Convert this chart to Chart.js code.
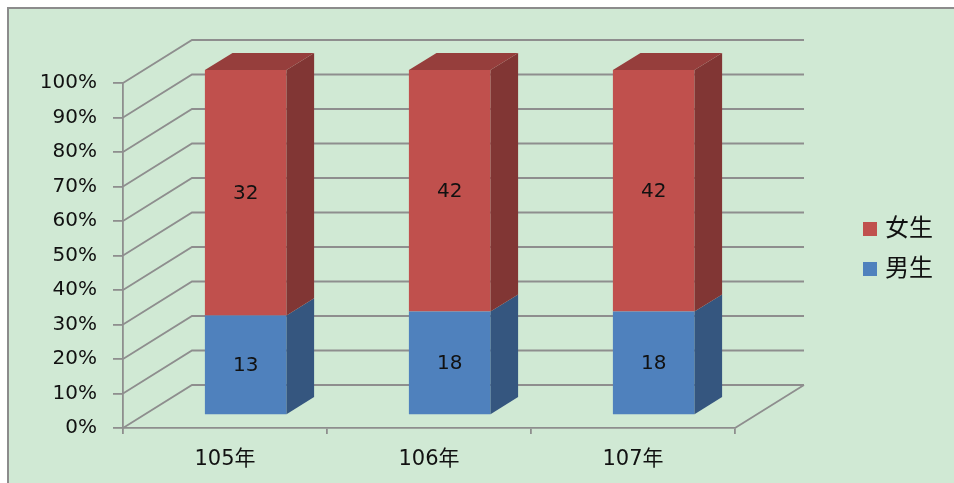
<!DOCTYPE html>
<html>
<head>
<meta charset="utf-8">
<script src="https://cdn.jsdelivr.net/npm/chart.js@4/dist/chart.umd.min.js"></script>
<style>
    body { margin: 0; background: #fff; }
    #wrap { position: relative; width: 954px; height: 483px; }
</style>
</head>
<body>
<div id="wrap"><canvas id="genderChart" width="954" height="483"></canvas></div>
<script>
// 資料
const years = ["105年", "106年", "107年"];
const boys = [13, 18, 18];
const girls = [32, 42, 42];
const yTicks = [0, 10, 20, 30, 40, 50, 60, 70, 80, 90, 100];

const totals = years.map((y, i) => boys[i] + girls[i]);
const boysPct = boys.map((v, i) => (v / totals[i]) * 100);
const girlsPct = girls.map((v, i) => (v / totals[i]) * 100);

const BG = "#d0e9d4";
const LINE = "#8e8e8e";
const FONT = "'DejaVu Sans', 'Noto Sans CJK TC', sans-serif";

// 3D 深度 (背牆)
const DEPTH_X = 69, DEPTH_Y = -43;
const FRONT_F = 0.3, BAR_F = 0.4;

function shade(hex, f) {
    const n = parseInt(hex.slice(1), 16);
    const r = Math.round(((n >> 16) & 255) * f);
    const g = Math.round(((n >> 8) & 255) * f);
    const b = Math.round((n & 255) * f);
    return "rgb(" + r + "," + g + "," + b + ")";
}

const threeD = {
    id: "threeD",
    beforeDraw(chart) {
        const c = chart.ctx;
        c.save();
        c.fillStyle = "#fff";
        c.fillRect(0, 0, chart.width, chart.height);
        c.fillStyle = BG;
        c.fillRect(8, 8, chart.width - 8, chart.height - 8);
        c.strokeStyle = "#8c8c8c";
        c.lineWidth = 2;
        c.beginPath();
        c.moveTo(8, chart.height);
        c.lineTo(8, 8);
        c.lineTo(chart.width, 8);
        c.stroke();
        c.restore();
    },
    beforeDatasetsDraw(chart) {
        const c = chart.ctx;
        const a = chart.chartArea;
        const ys = chart.scales.y;
        c.save();
        c.strokeStyle = LINE;
        c.lineWidth = 1.8;
        c.beginPath();
        yTicks.forEach((t) => {
            const py = ys.getPixelForValue(t);
            c.moveTo(a.left, py);
            c.lineTo(a.left + DEPTH_X, py + DEPTH_Y);
            c.lineTo(a.right + DEPTH_X, py + DEPTH_Y);
        });
        // 地板右側
        c.moveTo(a.right, a.bottom);
        c.lineTo(a.right + DEPTH_X, a.bottom + DEPTH_Y);
        c.stroke();
        c.restore();

        c.save();
        c.translate(DEPTH_X * FRONT_F, DEPTH_Y * FRONT_F);
    },
    afterDatasetsDraw(chart) {
        const c = chart.ctx;
        const dx = DEPTH_X * BAR_F, dy = DEPTH_Y * BAR_F;
        const n = chart.data.datasets.length;
        chart.data.datasets.forEach((ds, di) => {
            const meta = chart.getDatasetMeta(di);
            meta.data.forEach((bar) => {
                const p = bar.getProps(["x", "y", "base", "width"], true);
                const x1 = p.x + p.width / 2;
                const x0 = p.x - p.width / 2;
                c.fillStyle = shade(ds.backgroundColor, 0.67);
                c.beginPath();
                c.moveTo(x1, p.base);
                c.lineTo(x1, p.y);
                c.lineTo(x1 + dx, p.y + dy);
                c.lineTo(x1 + dx, p.base + dy);
                c.closePath();
                c.fill();
                if (di === n - 1) {
                    c.fillStyle = shade(ds.backgroundColor, 0.78);
                    c.beginPath();
                    c.moveTo(x0, p.y);
                    c.lineTo(x1, p.y);
                    c.lineTo(x1 + dx, p.y + dy);
                    c.lineTo(x0 + dx, p.y + dy);
                    c.closePath();
                    c.fill();
                }
            });
        });
        // 數值標籤
        c.fillStyle = "#111";
        c.font = "20px " + FONT;
        c.textAlign = "center";
        c.textBaseline = "middle";
        chart.data.datasets.forEach((ds, di) => {
            const meta = chart.getDatasetMeta(di);
            meta.data.forEach((bar, i) => {
                const p = bar.getProps(["x", "y", "base"], true);
                c.fillText(String(ds.counts[i]), p.x, (p.y + p.base) / 2 + 1);
            });
        });
        c.restore();

        // 圖例
        c.save();
        c.font = "24px " + FONT;
        c.textBaseline = "middle";
        c.textAlign = "left";
        const items = chart.data.datasets.slice().reverse();
        items.forEach((ds, k) => {
            const cy = 229 + k * 40;
            c.fillStyle = ds.backgroundColor;
            c.fillRect(863, cy - 7, 14, 14);
            c.fillStyle = "#111";
            c.fillText(ds.label, 885, cy + 1);
        });
        c.restore();
    },
};

const ctx = document.getElementById("genderChart").getContext("2d");

new Chart(ctx, {
    type: "bar",
    data: {
        labels: years,
        datasets: [
            {
                label: "男生",
                data: boysPct,
                counts: boys,
                backgroundColor: "#4f81bd",
                borderWidth: 0,
                categoryPercentage: 1,
                barPercentage: 0.4,
            },
            {
                label: "女生",
                data: girlsPct,
                counts: girls,
                backgroundColor: "#c0504d",
                borderWidth: 0,
                categoryPercentage: 1,
                barPercentage: 0.4,
            },
        ],
    },
    options: {
        responsive: false,
        animation: false,
        layout: { padding: { top: 83, right: 219, bottom: 0, left: 0 } },
        plugins: {
            legend: { display: false },
            tooltip: { enabled: false },
        },
        scales: {
            x: {
                stacked: true,
                afterFit: (s) => { s.height = 55; },
                grid: {
                    drawOnChartArea: false,
                    tickLength: 6,
                    color: LINE,
                    lineWidth: 1.8,
                    offset: true,
                },
                border: { display: true, color: LINE, width: 1.8 },
                ticks: {
                    padding: 13,
                    color: "#111",
                    font: { size: 21, family: FONT },
                },
            },
            y: {
                stacked: true,
                min: 0,
                max: 100,
                afterFit: (s) => { s.width = 123; },
                afterBuildTicks: (s) => {
                    s.ticks = yTicks.map((v) => ({ value: v }));
                },
                grid: {
                    drawOnChartArea: false,
                    tickLength: 10,
                    color: LINE,
                    lineWidth: 1.8,
                },
                border: { display: true, color: LINE, width: 1.8 },
                ticks: {
                    padding: 16,
                    color: "#111",
                    font: { size: 20, family: FONT },
                    callback: (v) => v + "%",
                },
            },
        },
    },
    plugins: [threeD],
});
</script>
</body>
</html>
